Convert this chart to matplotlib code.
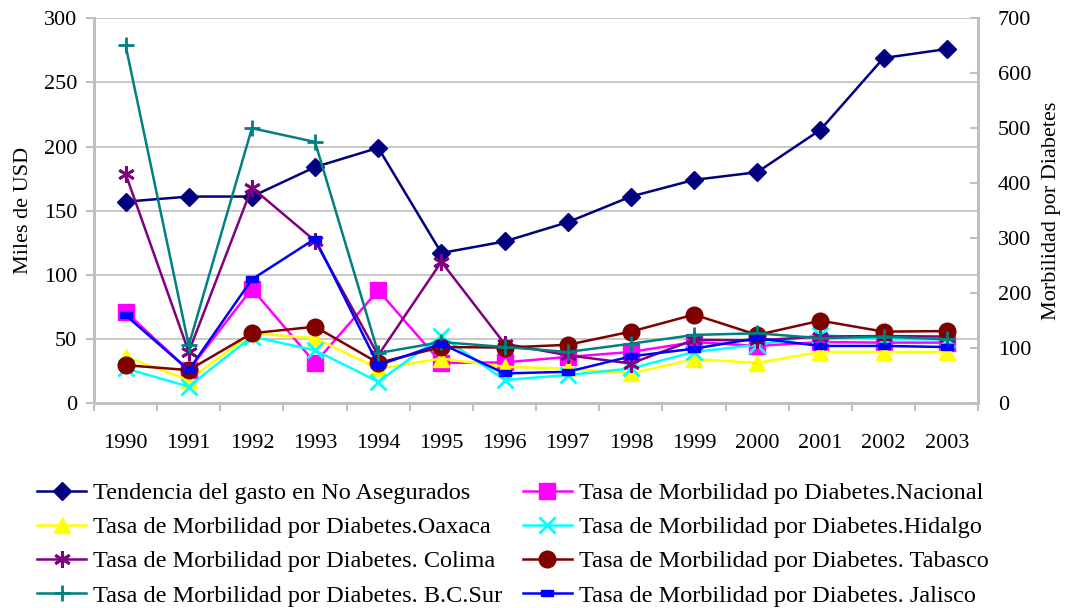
import matplotlib
matplotlib.use('Agg')
import matplotlib.pyplot as plt
import numpy as np

plt.rcParams['font.family'] = ['Liberation Serif', 'DejaVu Serif']

years = ['1990', '1991', '1992', '1993', '1994', '1995', '1996', '1997',
         '1998', '1999', '2000', '2001', '2002', '2003']

# left axis (Miles de USD)
gasto = [157, 161, 161, 184, 199, 117, 126, 141, 161, 174, 180, 213, 269, 276]

# right axis (Morbilidad por Diabetes)
nacional = [166, 60, 208, 73, 205, 73, 74, 84, 93, 111, 104, 111, 110, 110]
oaxaca = [84, 42, 127, 118, 63, 81, 66, 63, 54, 80, 73, 93, 93, 93]
hidalgo = [63, 30, 121, 96, 39, 122, 42, 51, 63, 93, 106, 124, 116, 116]
colima = [417, 93, 392, 295, 87, 257, 108, 87, 72, 115, 114, 121, 122, 121]
tabasco = [69, 60, 127, 139, 73, 102, 101, 106, 130, 161, 124, 150, 130, 131]
bcsur = [651, 105, 500, 475, 91, 111, 102, 93, 108, 124, 127, 118, 121, 116]
jalisco = [160, 60, 225, 299, 69, 108, 54, 57, 85, 99, 118, 104, 104, 102]

x = np.arange(len(years))
dash = [(-1, -0.45), (1, -0.45), (1, 0.45), (-1, 0.45), (-1, -0.45)]

fig = plt.figure(figsize=(10.68, 6.08), dpi=100)
ax = fig.add_subplot(111)
fig.subplots_adjust(left=0.088, right=0.916, top=0.970, bottom=0.337)
ax2 = ax.twinx()

lw = 1.8
h = []
h += ax.plot(x, gasto, color='#000080', marker='D', ms=9, lw=lw,
             label='Tendencia del gasto en No Asegurados')
h += ax2.plot(x, nacional, color='#FF00FF', marker='s', ms=11, lw=lw,
              label='Tasa de Morbilidad po Diabetes.Nacional')
h += ax2.plot(x, oaxaca, color='#FFFF00', marker='^', ms=11, lw=lw,
              label='Tasa de Morbilidad por Diabetes.Oaxaca')
h += ax2.plot(x, hidalgo, color='#00FFFF', marker='x', ms=11, mew=2, lw=lw,
              label='Tasa de Morbilidad por Diabetes.Hidalgo')
h += ax2.plot(x, colima, color='#800080', marker=(6, 2, 0), ms=12, mew=2, lw=lw,
              label='Tasa de Morbilidad por Diabetes. Colima')
h += ax2.plot(x, tabasco, color='#800000', marker='o', ms=12, lw=lw,
              label='Tasa de Morbilidad por Diabetes. Tabasco')
h += ax2.plot(x, bcsur, color='#008080', marker='+', ms=12, mew=2, lw=lw,
              label='Tasa de Morbilidad por Diabetes. B.C.Sur')
h += ax2.plot(x, jalisco, color='#0000FF', marker=dash, ms=9, lw=lw,
              label='Tasa de Morbilidad por Diabetes. Jalisco')

ax.set_xlim(-0.5, 13.5)
ax.set_ylim(0, 300)
ax2.set_ylim(0, 700)
ax.set_yticks(np.arange(0, 301, 50))
ax2.set_yticks(np.arange(0, 701, 100))

# category labels centered, tick marks on boundaries
ax.set_xticks(np.arange(-0.5, 14, 1))
ax.set_xticklabels([])
ax.set_xticks(x, minor=True)
ax.set_xticklabels(years, minor=True)
ax.tick_params(axis='x', which='major', length=6, width=1.5, color='#C0C0C0', direction='out')
ax.tick_params(axis='x', which='minor', length=0, pad=22, labelsize=16)
ax.tick_params(axis='y', length=6, width=1.5, color='#C0C0C0', labelsize=16, pad=6)
ax2.tick_params(axis='y', length=6, width=1.5, color='#C0C0C0', labelsize=16,
                direction='in', pad=14)

ax.grid(axis='y', color='#C0C0C0', lw=1.2)
ax.set_axisbelow(True)
for a in (ax, ax2):
    for s in a.spines.values():
        s.set_color('#C0C0C0')
        s.set_linewidth(2)
ax.spines['top'].set_visible(False)
ax2.spines['top'].set_visible(False)

ax.set_ylabel('Miles de USD', fontsize=16, labelpad=8)
ax2.set_ylabel('Morbilidad por Diabetes', fontsize=16, labelpad=8)

# legend is filled row by row in the original
order = [0, 2, 4, 6, 1, 3, 5, 7]
fig.legend(handles=[h[i] for i in order], loc='upper left',
           bbox_to_anchor=(0.026, 0.223), ncol=2,
           frameon=False, fontsize=17.5, handlelength=2.0, handletextpad=0.3,
           columnspacing=0.85, labelspacing=0.5, borderaxespad=0)

plt.savefig('out.png', dpi=100)
